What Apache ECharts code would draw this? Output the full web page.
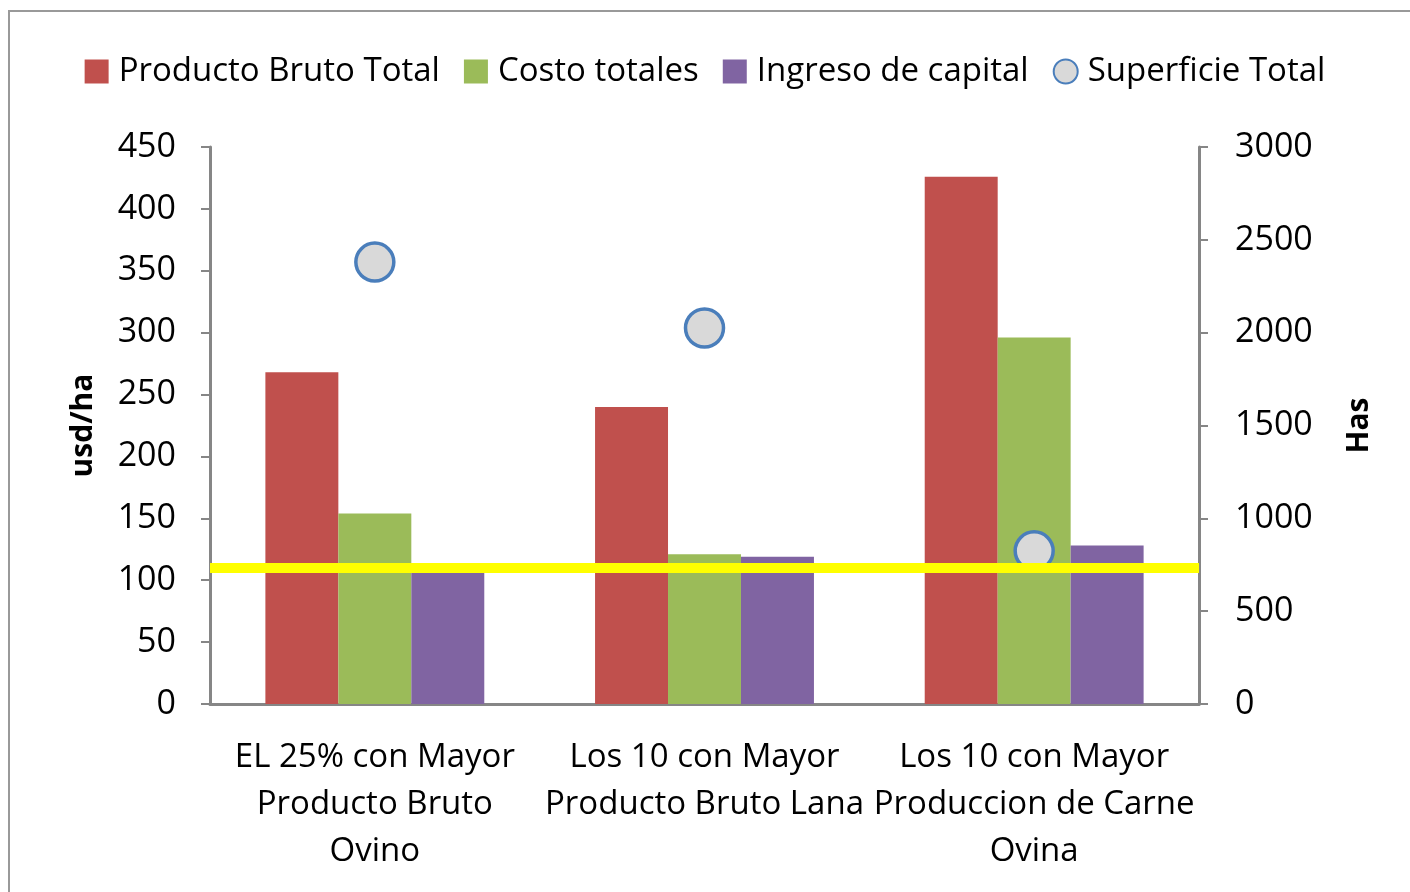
<!DOCTYPE html>
<html>
<head>
<meta charset="utf-8">
<script src="https://cdn.jsdelivr.net/npm/echarts@6/dist/echarts.min.js"></script>
<style>
  html, body { margin: 0; padding: 0; background: #fff; }
  #chart { width: 1410px; height: 892px; }
</style>
</head>
<body>
<div id="chart"></div>
<script>
// categories and values
var categories = [
    'EL 25% con Mayor\nProducto Bruto\nOvino',
    'Los 10 con Mayor\nProducto Bruto Lana',
    'Los 10 con Mayor\nProduccion de Carne\nOvina'
];
var productoBruto = [268, 240, 426];
var costoTotales = [154, 121, 296];
var ingresoCapital = [108, 119, 128];
var superficieTotal = [2380, 2025, 825];
var umbral = 110; // yellow reference line, usd/ha

var fontFam = '"Liberation Sans Narrow", "Open Sans", sans-serif';
var axisGrey = '#868686';

var chartDom = document.getElementById('chart');
var myChart = echarts.init(chartDom);

var option = {
    animation: false,
    textStyle: { fontFamily: fontFam, color: '#000' },
    graphic: [{
        type: 'rect',
        shape: { x: 9, y: 11, width: 1420, height: 900 },
        style: { fill: 'none', stroke: '#999', lineWidth: 2 },
        silent: true
    }],
    legend: {
        top: 50,
        left: 'center',
        itemWidth: 24,
        itemHeight: 24,
        itemGap: 24,
        textStyle: { fontSize: 33, fontFamily: fontFam, color: '#000', padding: [4, 0, 0, 5] },
        data: [
            { name: 'Producto Bruto Total', icon: 'rect' },
            { name: 'Costo totales', icon: 'rect' },
            { name: 'Ingreso de capital', icon: 'rect' },
            { name: 'Superficie Total', icon: 'circle' }
        ]
    },
    grid: { left: 210, right: 211, top: 147, bottom: 188 },
    xAxis: {
        type: 'category',
        data: categories,
        axisLine: { lineStyle: { color: axisGrey, width: 3 } },
        axisTick: { length: 10, lineStyle: { color: axisGrey, width: 2 } },
        axisLabel: {
            fontSize: 33, lineHeight: 47, color: '#000', margin: 30,
            fontFamily: fontFam, interval: 0
        }
    },
    yAxis: [{
        type: 'value',
        min: 0, max: 450, interval: 50,
        name: 'usd/ha',
        nameLocation: 'middle',
        nameRotate: 90,
        nameGap: 112,
        nameTextStyle: { fontSize: 30, fontWeight: 'bold', color: '#000', fontFamily: fontFam },
        axisLine: { show: true, lineStyle: { color: axisGrey, width: 3 } },
        axisTick: { show: true, length: 9, lineStyle: { color: axisGrey, width: 2 } },
        axisLabel: { fontSize: 34, color: '#000', margin: 34, fontFamily: fontFam, padding: [6, 0, 0, 0] },
        splitLine: { show: false }
    }, {
        type: 'value',
        min: 0, max: 3000, interval: 500,
        name: 'Has',
        nameLocation: 'middle',
        nameRotate: 90,
        nameGap: 145,
        nameTextStyle: { fontSize: 30, fontWeight: 'bold', color: '#000', fontFamily: fontFam },
        axisLine: { show: true, lineStyle: { color: axisGrey, width: 3 } },
        axisTick: { show: true, length: 9, lineStyle: { color: axisGrey, width: 2 } },
        axisLabel: {
            fontSize: 34, color: '#000', margin: 36, fontFamily: fontFam, padding: [6, 0, 0, 0],
            formatter: function (v) { return String(v); }
        },
        splitLine: { show: false }
    }],
    series: [{
        name: 'Producto Bruto Total',
        type: 'bar',
        data: productoBruto,
        barGap: '0%',
        barCategoryGap: '33.6%',
        itemStyle: { color: '#c0504d' }
    }, {
        name: 'Costo totales',
        type: 'bar',
        data: costoTotales,
        itemStyle: { color: '#9bbb59' }
    }, {
        name: 'Ingreso de capital',
        type: 'bar',
        data: ingresoCapital,
        itemStyle: { color: '#8064a2' },
        markLine: {
            silent: true,
            symbol: 'none',
            z: 20,
            label: { show: false },
            lineStyle: { color: '#ffff00', width: 10, type: 'solid', opacity: 1 },
            data: [{ yAxis: umbral }]
        }
    }, {
        name: 'Superficie Total',
        type: 'scatter',
        yAxisIndex: 1,
        data: superficieTotal,
        symbolSize: 38,
        z: 5,
        itemStyle: { color: '#d9d9d9', borderColor: '#4a7ebb', borderWidth: 3.5, opacity: 1 }
    }]
};

myChart.setOption(option);

window.addEventListener('resize', function () {
    myChart.resize();
});
</script>
</body>
</html>
